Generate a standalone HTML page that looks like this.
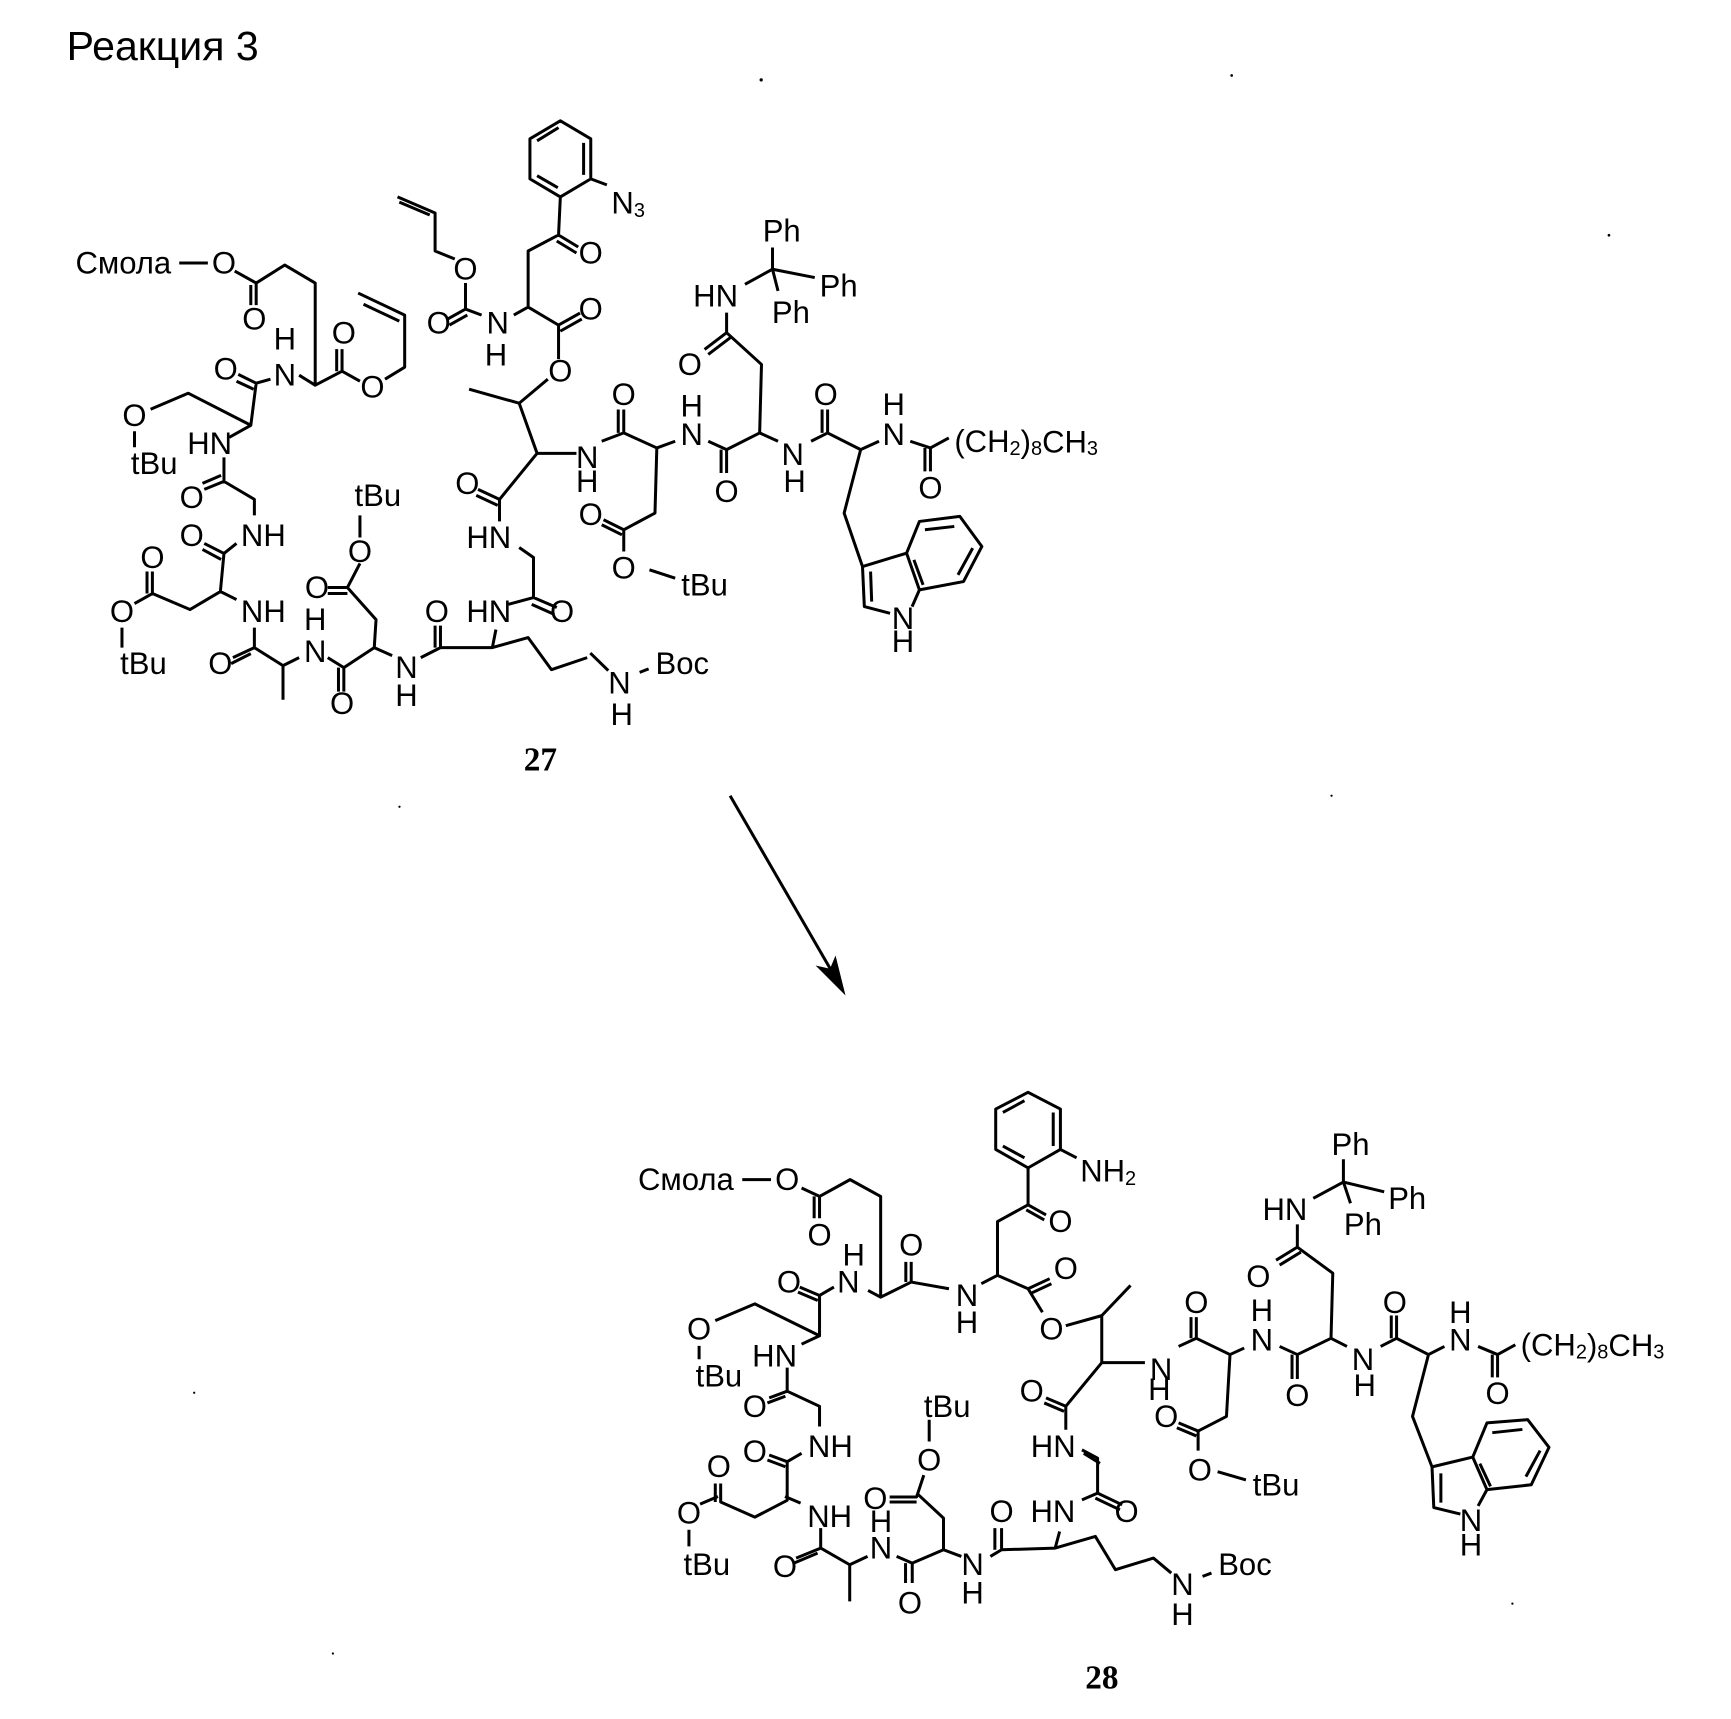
<!DOCTYPE html>
<html><head><meta charset="utf-8"><style>
html,body{margin:0;padding:0;background:#fff;}
svg{display:block;}
text{font-family:"Liberation Sans",Arial,sans-serif;font-size:28px;fill:#000;}
.c{text-anchor:middle;dominant-baseline:central;}
.l{text-anchor:start;dominant-baseline:central;}
path{fill:none;stroke:#000;stroke-width:3;vector-effect:non-scaling-stroke;stroke-linejoin:round;}
.num{font-family:"Liberation Serif",serif;font-weight:bold;font-size:30px;}
</style></head><body>
<svg width="1731" height="1719" viewBox="0 0 1560 1549" preserveAspectRatio="none" xmlns="http://www.w3.org/2000/svg">
<rect width="1560" height="1549" fill="#fff"/>
<text x="60" y="54" style="font-size:37px">Реакция 3</text>
<circle cx="686" cy="72" r="1.5"/><circle cx="1110" cy="68" r="1.2"/><circle cx="1450" cy="212" r="1.2"/><circle cx="360" cy="727" r="1"/><circle cx="1200" cy="717" r="1"/><circle cx="175" cy="1255" r="1"/><circle cx="1363" cy="1445" r="1"/><circle cx="300" cy="1490" r="1"/>

<!-- Molecule 27 left -->
<g transform="matrix(.3225 0 0 .361 55.1 89.0)">
<path d="M330 410 L410 410 M485 430 L545 460 L625 415 L710 460 L710 715 L785 680 L835 705 M545 460 L545 515 M530 465 L530 515 M785 680 L785 625 M770 680 L770 625 M905 700 L960 670 L960 540 L830 485 M945 555 L845 513 M710 715 L665 690 M585 700 L545 710 L495 688 M538 725 L490 705 M545 710 L530 815 L355 735 L250 775 M205 830 L205 870 M530 815 L470 845 M455 895 L455 955 L400 975 M447 940 L395 960 M455 955 L540 1000 L540 1040 M490 1110 L455 1135 L400 1110 M447 1150 L395 1125 M455 1135 L445 1230 L490 1250 M445 1230 L360 1275 L255 1235 L255 1180 M240 1235 L240 1180 M255 1235 L205 1260 M170 1320 L170 1370 M540 1320 L540 1370 L480 1395 M530 1385 L475 1410 M540 1370 L620 1415 L620 1500 M620 1415 L665 1395 M745 1395 L790 1420 L790 1480 M775 1420 L775 1480 M790 1420 L875 1370 L880 1300 L800 1220 L745 1220 M800 1235 L745 1235 M800 1220 L835 1160 M835 1095 L835 1040 M875 1370 L925 1390 M1005 1395 L1060 1370 L1060 1315 M1045 1370 L1045 1315 M1060 1370 L1205 1370 L1305 1345 L1370 1425 L1470 1395 M1205 1370 L1215 1325 M1250 1262 L1320 1245 L1385 1270 M1315 1262 L1378 1287 M1320 1245 L1320 1145 L1280 1120 M1225 1055 L1225 1000 L1165 975 M1220 1015 L1160 990 M1225 1000 L1330 885 L1440 885 M1330 885 L1280 760 L1140 725 M1280 760 L1360 700 M1390 650 L1390 565 L1450 535 M1395 580 L1455 550 M1390 565 L1305 520 L1265 540 M1175 540 L1130 525 L1080 550 M1135 540 L1085 565 M1130 525 L1130 460 M1100 400 L1045 380 L1045 285 L940 245 M1030 290 L945 258 M1305 520 L1305 380 L1390 340 L1445 370 M1385 355 L1440 385 M1390 340 L1395 245 M1395 245 L1310 200 L1310 100 L1395 55 L1480 100 L1480 200 Z M1460 110 L1460 190 M1330 105 L1390 72 M1330 192 L1388 222 M1480 200 L1525 215"/>
<text class="l" transform="translate(40 410) scale(3.1 2.77)">Смола</text>
<text class="c" transform="translate(455 410) scale(3.1 2.77)">O</text>
<text class="c" transform="translate(540 550) scale(3.1 2.77)">O</text>
<text class="c" transform="translate(790 585) scale(3.1 2.77)">O</text>
<text class="c" transform="translate(870 720) scale(3.1 2.77)">O</text>
<text class="c" transform="translate(625 600) scale(3.1 2.77)">H</text>
<text class="c" transform="translate(625 690) scale(3.1 2.77)">N</text>
<text class="c" transform="translate(460 675) scale(3.1 2.77)">O</text>
<text class="c" transform="translate(205 790) scale(3.1 2.77)">O</text>
<text class="c" transform="translate(260 910) scale(3.1 2.77)">tBu</text>
<text class="c" transform="translate(415 860) scale(3.1 2.77)">HN</text>
<text class="c" transform="translate(365 995) scale(3.1 2.77)">O</text>
<text class="c" transform="translate(565 1090) scale(3.1 2.77)">NH</text>
<text class="c" transform="translate(365 1090) scale(3.1 2.77)">O</text>
<text class="c" transform="translate(255 1145) scale(3.1 2.77)">O</text>
<text class="c" transform="translate(565 1280) scale(3.1 2.77)">NH</text>
<text class="c" transform="translate(170 1280) scale(3.1 2.77)">O</text>
<text class="c" transform="translate(230 1410) scale(3.1 2.77)">tBu</text>
<text class="c" transform="translate(445 1410) scale(3.1 2.77)">O</text>
<text class="c" transform="translate(710 1300) scale(3.1 2.77)">H</text>
<text class="c" transform="translate(710 1380) scale(3.1 2.77)">N</text>
<text class="c" transform="translate(785 1510) scale(3.1 2.77)">O</text>
<text class="c" transform="translate(715 1220) scale(3.1 2.77)">O</text>
<text class="c" transform="translate(835 1130) scale(3.1 2.77)">O</text>
<text class="c" transform="translate(885 990) scale(3.1 2.77)">tBu</text>
<text class="c" transform="translate(965 1420) scale(3.1 2.77)">N</text>
<text class="c" transform="translate(965 1490) scale(3.1 2.77)">H</text>
<text class="c" transform="translate(1050 1280) scale(3.1 2.77)">O</text>
<text class="c" transform="translate(1195 1280) scale(3.1 2.77)">HN</text>
<text class="c" transform="translate(1400 1280) scale(3.1 2.77)">O</text>
<text class="c" transform="translate(1195 1095) scale(3.1 2.77)">HN</text>
<text class="c" transform="translate(1135 960) scale(3.1 2.77)">O</text>
<text class="c" transform="translate(1470 895) scale(3.1 2.77)">N</text>
<text class="c" transform="translate(1470 955) scale(3.1 2.77)">H</text>
<text class="c" transform="translate(1395 680) scale(3.1 2.77)">O</text>
<text class="c" transform="translate(1480 525) scale(3.1 2.77)">O</text>
<text class="c" transform="translate(1220 560) scale(3.1 2.77)">N</text>
<text class="c" transform="translate(1215 640) scale(3.1 2.77)">H</text>
<text class="c" transform="translate(1055 560) scale(3.1 2.77)">O</text>
<text class="c" transform="translate(1130 425) scale(3.1 2.77)">O</text>
<text class="c" transform="translate(1480 385) scale(3.1 2.77)">O</text>
</g>
<text class="l" x="551" y="183">N<tspan font-size="18" dy="7">3</tspan></text>

<!-- Molecule 27 right -->
<g transform="matrix(.331 0 0 .301 482.7 180.9)">
<path d="M180 720 L240 695 L240 625 M225 695 L225 625 M240 695 L330 740 L380 720 M330 740 L325 935 L240 985 L185 955 M235 1000 L180 970 M240 985 L240 1050 M310 1105 L380 1130 M470 720 L520 745 L520 815 M505 745 L505 815 M520 745 L610 695 L660 720 M610 695 L615 490 L520 395 L460 445 M530 410 L470 460 M520 395 L520 335 M570 250 L645 205 L645 140 M645 205 L760 230 M645 205 L660 270 M750 720 L795 695 L795 625 M780 695 L780 625 M795 695 L885 745 L935 720 M1020 720 L1075 740 L1075 810 M1060 740 L1060 810 M1075 740 L1125 710 M885 745 L840 935 L890 1095 L1010 1055 L1045 1165 L1025 1215 M965 1235 L895 1215 L890 1095 M915 1200 L912 1110 M1010 1055 L1045 960 L1155 945 L1215 1035 L1165 1140 L1045 1165 M1060 985 L1140 975 M1190 1040 L1150 1120 M1030 1075 L1055 1150"/>
<text class="c" transform="translate(240 580) scale(3.02 3.32)">O</text>
<text class="c" transform="translate(425 700) scale(3.02 3.32)">N</text>
<text class="c" transform="translate(425 615) scale(3.02 3.32)">H</text>
<text class="c" transform="translate(150 940) scale(3.02 3.32)">O</text>
<text class="c" transform="translate(240 1100) scale(3.02 3.32)">O</text>
<text class="c" transform="translate(460 1150) scale(3.02 3.32)">tBu</text>
<text class="c" transform="translate(520 870) scale(3.02 3.32)">O</text>
<text class="c" transform="translate(700 760) scale(3.02 3.32)">N</text>
<text class="c" transform="translate(705 840) scale(3.02 3.32)">H</text>
<text class="c" transform="translate(420 490) scale(3.02 3.32)">O</text>
<text class="c" transform="translate(490 285) scale(3.02 3.32)">HN</text>
<text class="c" transform="translate(670 90) scale(3.02 3.32)">Ph</text>
<text class="c" transform="translate(825 255) scale(3.02 3.32)">Ph</text>
<text class="c" transform="translate(695 335) scale(3.02 3.32)">Ph</text>
<text class="c" transform="translate(790 580) scale(3.02 3.32)">O</text>
<text class="c" transform="translate(975 700) scale(3.02 3.32)">N</text>
<text class="c" transform="translate(975 610) scale(3.02 3.32)">H</text>
<text class="c" transform="translate(1075 860) scale(3.02 3.32)">O</text>
<text class="c" transform="translate(1000 1250) scale(3.02 3.32)">N</text>
<text class="c" transform="translate(1000 1320) scale(3.02 3.32)">H</text>
<text class="l" transform="translate(1140 720) scale(3.02 3.32)">(CH<tspan font-size="18" dy="7">2</tspan><tspan dy="-7">)</tspan><tspan font-size="18" dy="7">8</tspan><tspan dy="-7">CH</tspan><tspan font-size="18" dy="7">3</tspan></text>
</g>

<g transform="matrix(.404 0 0 .316 55.3 539.5)">
<path d="M1180 155 L1220 205 M1290 210 L1310 200"/>
<text class="c" transform="translate(1245 240) scale(2.475 3.165)">N</text>
<text class="c" transform="translate(1250 330) scale(2.475 3.165)">H</text>
<text class="c" transform="translate(1385 185) scale(2.475 3.165)">Boc</text>
</g>
<text class="c num" x="487" y="685">27</text>

<!-- Arrow -->
<path d="M658 717 L750 876"/>
<polygon points="762,897 735,870 748,873 753,861" fill="#000"/>

<!-- Molecule 28 top-left -->
<g transform="matrix(.324 0 0 .3026 562 973.7)">
<path d="M330 295 L410 295 M495 320 L545 345 L630 295 L715 345 L715 645 M545 345 L545 410 M530 345 L530 410 M680 625 L715 645 L800 600 L905 620 M800 600 L800 540 M785 600 L785 540 M995 605 L1040 580 L1040 420 L1125 370 L1175 400 M1120 385 L1170 415 M1125 370 L1125 260 M1125 260 L1035 205 L1035 85 L1125 35 L1215 85 L1215 205 Z M1195 95 L1195 195 M1055 95 L1115 60 M1055 195 L1115 230 M1215 205 L1260 230 M1040 580 L1125 620 L1185 590 M1130 635 L1190 605 M1125 620 L1165 690 M1230 730 L1330 700 L1410 610 M1330 700 L1330 840 L1450 840 M1330 840 L1230 970 L1175 945 M1225 985 L1170 960 M1230 970 L1230 1040 M1280 1110 L1325 1140 M585 615 L545 640 L490 615 M540 655 L485 630 M545 640 L545 760 L365 665 L255 715 M210 790 L210 830 M545 760 L495 785 M455 855 L455 925 L405 945 M450 940 L400 960 M455 925 L545 970 L545 1030 M495 1110 L455 1135 L405 1115 M450 1150 L400 1130 M455 1135 L455 1250 L365 1300 L270 1255 L270 1200 M255 1255 L255 1200 M850 1010 L850 1075 M835 1175 L815 1240 L740 1240 M815 1255 L740 1255"/>
<text class="l" transform="translate(40 295) scale(3.086 3.305)">Смола</text>
<text class="c" transform="translate(455 295) scale(3.086 3.305)">O</text>
<text class="c" transform="translate(545 460) scale(3.086 3.305)">O</text>
<text class="c" transform="translate(640 520) scale(3.086 3.305)">H</text>
<text class="c" transform="translate(625 600) scale(3.086 3.305)">N</text>
<text class="c" transform="translate(800 490) scale(3.086 3.305)">O</text>
<text class="c" transform="translate(955 640) scale(3.086 3.305)">N</text>
<text class="c" transform="translate(955 720) scale(3.086 3.305)">H</text>
<text class="c" transform="translate(1215 420) scale(3.086 3.305)">O</text>
<text class="l" transform="translate(1270 270) scale(3.086 3.305)">NH<tspan font-size="18" dy="7">2</tspan></text>
<text class="c" transform="translate(1230 560) scale(3.086 3.305)">O</text>
<text class="c" transform="translate(1190 740) scale(3.086 3.305)">O</text>
<text class="c" transform="translate(1495 860) scale(3.086 3.305)">N</text>
<text class="c" transform="translate(1490 920) scale(3.086 3.305)">H</text>
<text class="c" transform="translate(1135 925) scale(3.086 3.305)">O</text>
<text class="c" transform="translate(1195 1090) scale(3.086 3.305)">HN</text>
<text class="c" transform="translate(460 600) scale(3.086 3.305)">O</text>
<text class="c" transform="translate(210 740) scale(3.086 3.305)">O</text>
<text class="c" transform="translate(265 880) scale(3.086 3.305)">tBu</text>
<text class="c" transform="translate(420 820) scale(3.086 3.305)">HN</text>
<text class="c" transform="translate(365 970) scale(3.086 3.305)">O</text>
<text class="c" transform="translate(575 1090) scale(3.086 3.305)">NH</text>
<text class="c" transform="translate(365 1105) scale(3.086 3.305)">O</text>
<text class="c" transform="translate(265 1150) scale(3.086 3.305)">O</text>
<text class="c" transform="translate(900 970) scale(3.086 3.305)">tBu</text>
<text class="c" transform="translate(850 1130) scale(3.086 3.305)">O</text>
<text class="c" transform="translate(700 1245) scale(3.086 3.305)">O</text>
</g>

<!-- Molecule 28 right -->
<g transform="matrix(.3194 0 0 .2933 999.9 1002.1)">
<path d="M195 720 L245 695 L245 630 M230 695 L230 630 M245 695 L340 745 L380 725 M340 745 L330 935 L250 980 L195 955 M245 995 L190 970 M250 980 L250 1040 M305 1105 L385 1130 M480 720 L530 745 L530 820 M515 745 L515 820 M530 745 L625 695 L670 720 M625 695 L630 495 L530 415 L470 455 M540 430 L480 470 M530 415 L530 345 M575 265 L660 215 L660 145 M660 215 L775 245 M660 215 L680 280 M765 720 L810 695 L810 625 M795 695 L795 625 M810 695 L900 745 L945 720 M1040 720 L1095 745 L1095 815 M1080 745 L1080 815 M1095 745 L1145 715 M900 745 L855 935 L910 1090 L1025 1060 L1065 1160 L1040 1210 M990 1235 L915 1215 L910 1090 M935 1200 L935 1110 M1025 1060 L1065 955 L1180 945 L1240 1030 L1190 1145 L1065 1160 M1080 985 L1165 975 M1215 1040 L1175 1120 M1045 1080 L1075 1150"/>
<text class="c" transform="translate(245 585) scale(3.131 3.41)">O</text>
<text class="c" transform="translate(430 700) scale(3.131 3.41)">N</text>
<text class="c" transform="translate(430 610) scale(3.131 3.41)">H</text>
<text class="c" transform="translate(160 935) scale(3.131 3.41)">O</text>
<text class="c" transform="translate(255 1100) scale(3.131 3.41)">O</text>
<text class="c" transform="translate(470 1145) scale(3.131 3.41)">tBu</text>
<text class="c" transform="translate(530 870) scale(3.131 3.41)">O</text>
<text class="c" transform="translate(715 760) scale(3.131 3.41)">N</text>
<text class="c" transform="translate(720 840) scale(3.131 3.41)">H</text>
<text class="c" transform="translate(420 505) scale(3.131 3.41)">O</text>
<text class="c" transform="translate(495 300) scale(3.131 3.41)">HN</text>
<text class="c" transform="translate(680 100) scale(3.131 3.41)">Ph</text>
<text class="c" transform="translate(840 265) scale(3.131 3.41)">Ph</text>
<text class="c" transform="translate(715 345) scale(3.131 3.41)">Ph</text>
<text class="c" transform="translate(805 585) scale(3.131 3.41)">O</text>
<text class="c" transform="translate(990 700) scale(3.131 3.41)">N</text>
<text class="c" transform="translate(990 615) scale(3.131 3.41)">H</text>
<text class="c" transform="translate(1095 865) scale(3.131 3.41)">O</text>
<text class="c" transform="translate(1020 1255) scale(3.131 3.41)">N</text>
<text class="c" transform="translate(1020 1330) scale(3.131 3.41)">H</text>
<text class="l" transform="translate(1160 715) scale(3.131 3.41)">(CH<tspan font-size="18" dy="7">2</tspan><tspan dy="-7">)</tspan><tspan font-size="18" dy="7">8</tspan><tspan dy="-7">CH</tspan><tspan font-size="18" dy="7">3</tspan></text>
</g>

<!-- Molecule 28 bottom -->
<g transform="matrix(.4025 0 0 .3 544.4 1287)">
<path d="M255 205 L215 228 M190 305 L190 355 M405 205 L440 225 M485 300 L485 360 L430 390 M478 375 L425 405 M485 360 L550 410 L550 520 M550 410 L590 385 M655 385 L690 405 L690 465 M675 405 L675 465 M690 405 L760 365 L760 270 L700 195 M760 365 L800 385 M865 385 L890 365 L890 300 M875 365 L875 300 M890 365 L1010 360 L1100 325 L1145 425 L1230 390 L1270 435 M1010 360 L1020 310 M1340 445 L1360 435 M1070 215 L1105 195 L1160 230 M1100 210 L1155 245 M1105 195 L1105 90 L1070 65"/>
<text class="c" transform="translate(190 255) scale(2.484 3.333)">O</text>
<text class="c" transform="translate(230 410) scale(2.484 3.333)">tBu</text>
<text class="c" transform="translate(505 265) scale(2.484 3.333)">NH</text>
<text class="c" transform="translate(405 415) scale(2.484 3.333)">O</text>
<text class="c" transform="translate(620 360) scale(2.484 3.333)">N</text>
<text class="c" transform="translate(620 280) scale(2.484 3.333)">H</text>
<text class="c" transform="translate(685 525) scale(2.484 3.333)">O</text>
<text class="c" transform="translate(825 410) scale(2.484 3.333)">N</text>
<text class="c" transform="translate(825 495) scale(2.484 3.333)">H</text>
<text class="c" transform="translate(890 250) scale(2.484 3.333)">O</text>
<text class="c" transform="translate(1005 250) scale(2.484 3.333)">HN</text>
<text class="c" transform="translate(1295 470) scale(2.484 3.333)">N</text>
<text class="c" transform="translate(1295 560) scale(2.484 3.333)">H</text>
<text class="c" transform="translate(1435 410) scale(2.484 3.333)">Boc</text>
<text class="c" transform="translate(1170 250) scale(2.484 3.333)">O</text>
</g>
<text class="c num" x="993" y="1512">28</text>
</svg>
</body></html>
